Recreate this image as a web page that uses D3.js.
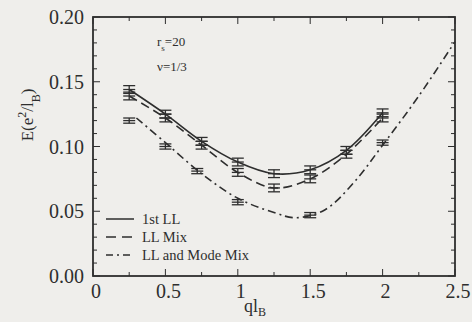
<!DOCTYPE html>
<html>
<head>
<meta charset="utf-8">
<script src="https://cdn.jsdelivr.net/npm/d3@7"></script>
<style>
  html, body { margin: 0; padding: 0; background: #efeeeb; }
  svg { display: block; }
  text { font-family: "Liberation Serif", "DejaVu Serif", serif; fill: #2e2e2e; }
</style>
</head>
<body>
<svg id="chart" width="472" height="322"></svg>
<script>
// measured points (q l_B, energy) with error bars
const qLL = [0.25, 0.5, 0.75, 1.0, 1.25, 1.5, 1.75, 2.0];
const firstLL = [0.144, 0.125, 0.104, 0.088, 0.079, 0.082, 0.097, 0.126];
const llMix = [0.139, 0.122, 0.101, 0.080, 0.068, 0.075, 0.094, 0.122];
const errLL = 0.003;

const qMode = [0.25, 0.5, 0.72, 1.0, 1.5, 2.0];
const modeMix = [0.120, 0.100, 0.081, 0.057, 0.047, 0.103];
const errMode = 0.002;

// fitted curve of the mode-mix results
const qModeFit = [0.3, 0.5, 0.75, 1.0, 1.25, 1.4, 1.6, 1.8, 2.0, 2.25, 2.5];
const modeFit = [0.122, 0.103, 0.079, 0.060, 0.049, 0.045, 0.051, 0.072, 0.101, 0.139, 0.181];

const xTicks = [0, 0.5, 1, 1.5, 2, 2.5];
const yTicks = [0, 0.05, 0.10, 0.15, 0.20];
const legendNames = ['1st LL', 'LL Mix', 'LL and Mode Mix'];

const INK = '#2e2e2e';
const DASH = '9,5';
const DASH_DOT = '8,4,2,4';

const svg = d3.select('#chart');
const M = { left: 93, right: 455, top: 17, bottom: 276 };

const x = d3.scaleLinear().domain([0, 2.5]).range([M.left, M.right]);
const y = d3.scaleLinear().domain([0, 0.2]).range([M.bottom, M.top]);

const g = svg.append('g');

// frame
g.append('rect').attr('x', M.left).attr('y', M.top)
  .attr('width', M.right - M.left).attr('height', M.bottom - M.top)
  .attr('fill', 'none').attr('stroke', INK).attr('stroke-width', 1.8);

// ticks, inward on all sides
const xMinor = d3.range(0, 2.5001, 0.25);
const yMinor = d3.range(0, 0.2001, 0.01);
const isMajorX = (v) => Math.abs(v * 2 - Math.round(v * 2)) < 1e-6;
const isMajorY = (v) => Math.abs(v * 20 - Math.round(v * 20)) < 1e-6;

const tickG = g.append('g').attr('stroke', INK).attr('stroke-width', 1);
xMinor.forEach((v) => {
  const len = isMajorX(v) ? 7 : 4;
  tickG.append('line').attr('x1', x(v)).attr('x2', x(v)).attr('y1', M.bottom).attr('y2', M.bottom - len);
  tickG.append('line').attr('x1', x(v)).attr('x2', x(v)).attr('y1', M.top).attr('y2', M.top + len);
});
yMinor.forEach((v) => {
  const len = isMajorY(v) ? 7 : 4;
  tickG.append('line').attr('y1', y(v)).attr('y2', y(v)).attr('x1', M.left).attr('x2', M.left + len);
  tickG.append('line').attr('y1', y(v)).attr('y2', y(v)).attr('x1', M.right).attr('x2', M.right - len);
});

// tick labels
g.selectAll('.xl').data(xTicks).enter().append('text')
  .attr('x', (d) => x(d) + 3).attr('y', 298)
  .attr('text-anchor', 'middle').attr('font-size', 20)
  .text((d) => d3.format('~g')(d));

g.selectAll('.yl').data(yTicks).enter().append('text')
  .attr('x', 84).attr('y', (d) => y(d) + 7)
  .attr('text-anchor', 'end').attr('font-size', 20)
  .text((d) => d3.format('.2f')(d));

// axis titles
const yTitle = g.append('text').attr('transform', 'translate(33,115) rotate(-90)')
  .attr('text-anchor', 'middle').attr('font-size', 17);
yTitle.append('tspan').text('E(e');
yTitle.append('tspan').attr('baseline-shift', 'super').attr('font-size', 12).text('2');
yTitle.append('tspan').text('/l');
yTitle.append('tspan').attr('baseline-shift', 'sub').attr('font-size', 12).text('B');
yTitle.append('tspan').text(')');

const xTitle = g.append('text').attr('x', 244).attr('y', 312).attr('font-size', 18);
xTitle.append('tspan').text('ql');
xTitle.append('tspan').attr('dy', 4).attr('font-size', 12).text('B');

// annotations
const rs = g.append('text').attr('x', 157).attr('y', 46).attr('font-size', 13);
rs.append('tspan').text('r');
rs.append('tspan').attr('baseline-shift', 'sub').attr('font-size', 9).text('s');
rs.append('tspan').text('=20');
g.append('text').attr('x', 157).attr('y', 71).attr('font-size', 13).text('\u03bd=1/3');

// curves
const line = d3.line().x((d) => x(d[0])).y((d) => y(d[1])).curve(d3.curveCatmullRom.alpha(0.5));
const curves = [
  { pts: d3.zip(qLL, firstLL), dash: null },
  { pts: d3.zip(qLL, llMix), dash: DASH },
  { pts: d3.zip(qModeFit, modeFit), dash: DASH_DOT }
];
g.selectAll('.curve').data(curves).enter().append('path')
  .attr('d', (d) => line(d.pts))
  .attr('fill', 'none').attr('stroke', INK).attr('stroke-width', 1.6)
  .attr('stroke-dasharray', (d) => d.dash);

// error bars
function errorBars(qs, vals, err) {
  const eg = g.append('g').attr('stroke', INK).attr('stroke-width', 1.3);
  qs.forEach((q, i) => {
    const cx = x(q);
    eg.append('line').attr('x1', cx).attr('x2', cx).attr('y1', y(vals[i] - err)).attr('y2', y(vals[i] + err));
    [vals[i] - err, vals[i], vals[i] + err].forEach((v) => {
      eg.append('line').attr('x1', cx - 6).attr('x2', cx + 6).attr('y1', y(v)).attr('y2', y(v));
    });
  });
}
errorBars(qLL, firstLL, errLL);
errorBars(qLL, llMix, errLL);
errorBars(qMode, modeMix, errMode);

// legend
const legendDash = [null, '10,6', '7,4,2,4'];
const lg = g.append('g');
legendNames.forEach((name, i) => {
  const ly = 219 + i * 18;
  lg.append('line').attr('x1', 106).attr('x2', 134).attr('y1', ly).attr('y2', ly)
    .attr('stroke', INK).attr('stroke-width', 1.5).attr('stroke-dasharray', legendDash[i]);
  lg.append('text').attr('x', 142).attr('y', ly + 5).attr('font-size', 14.5).text(name);
});
</script>
</body>
</html>
